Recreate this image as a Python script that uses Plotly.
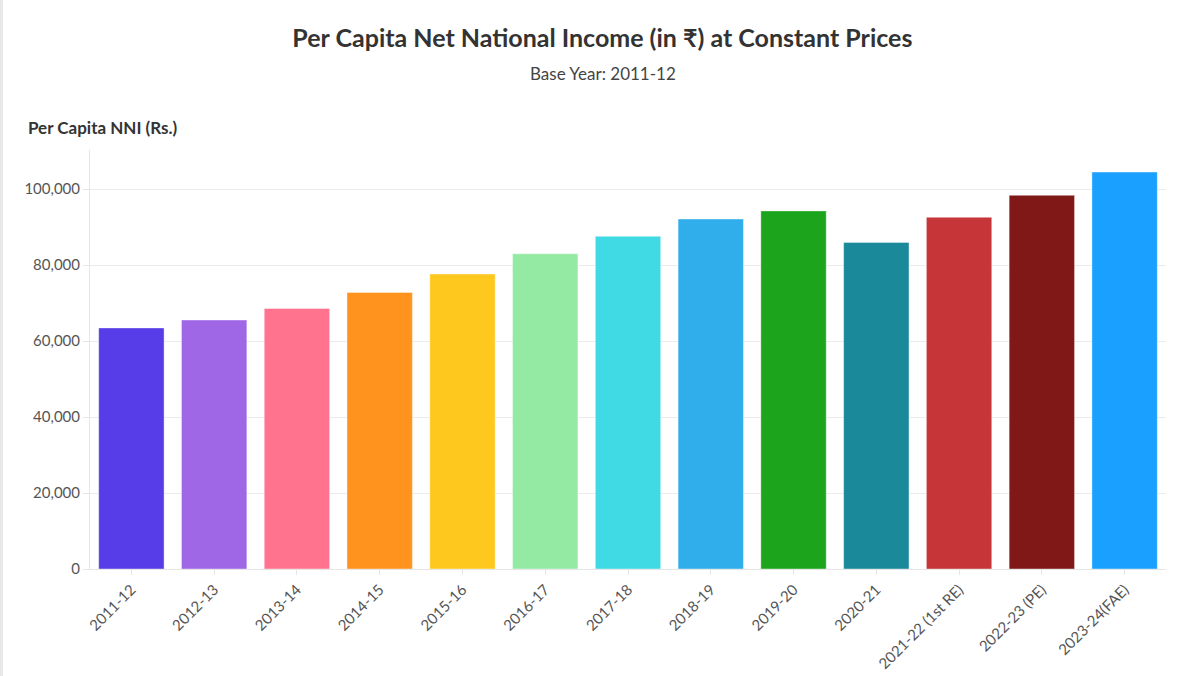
import plotly.graph_objects as go

years = ["2011-12", "2012-13", "2013-14", "2014-15", "2015-16", "2016-17", "2017-18",
         "2018-19", "2019-20", "2020-21", "2021-22 (1st RE)", "2022-23 (PE)", "2023-24(FAE)"]
nni = [63462, 65538, 68572, 72805, 77659, 83003, 87586, 92133, 94270, 85977, 92583, 98374, 104486]
colors = ["#573DE8", "#9F66E6", "#FF738F", "#FF931E", "#FFC81E", "#94EAA2", "#40DAE4",
          "#30AEEC", "#1CA41C", "#1A8A9A", "#C63638", "#801818", "#1AA0FF"]

W, H = 1200, 676
L, R, T, B = 90, 34, 150, 107

fig = go.Figure(go.Bar(
    x=years, y=nni,
    marker=dict(color=colors, line=dict(color="rgba(255,255,255,0.4)", width=1)),
    hovertemplate="%{x}: %{y:,}<extra></extra>",
))

font_family = "Lato, 'Open Sans', sans-serif"
pw = W - L - R
ph = H - T - B

fig.update_layout(
    width=W, height=H,
    margin=dict(l=L, r=R, t=T, b=B),
    paper_bgcolor="white", plot_bgcolor="white",
    font=dict(family=font_family, color="#555", size=15),
    bargap=0.21,
    showlegend=False,
    title=dict(text="<b>Per Capita Net National Income (in ₹) at Constant Prices</b>",
               x=0.502, xanchor="center", y=1 - 38 / H, yanchor="middle",
               font=dict(size=25, color="#333", family=font_family)),
    xaxis=dict(type="category", tickangle=-45, showgrid=False, showline=True,
               linecolor="#e6e6e6", automargin=False,
               ticks="outside", ticklen=5, tickcolor="#e6e6e6",
               tickfont=dict(size=15, color="#555")),
    yaxis=dict(range=[0, 110300], tickformat=",", dtick=20000, showgrid=True,
               gridcolor="#ebebeb", showline=True, linecolor="#e6e6e6", automargin=False,
               ticks="outside", ticklen=6, tickcolor="#e6e6e6", zeroline=False,
               tickfont=dict(size=15, color="#555")),
    annotations=[
        dict(text="Base Year: 2011-12", xref="paper", yref="paper",
             x=(603 - L) / pw, y=(H - 73 - B) / ph, xanchor="center", yanchor="middle",
             showarrow=False, font=dict(size=17, color="#444")),
        dict(text="<b>Per Capita NNI (Rs.)</b>", xref="paper", yref="paper",
             x=(26 - L) / pw, y=(H - 127 - B) / ph, xanchor="left", yanchor="middle",
             showarrow=False, font=dict(size=17, color="#333")),
    ],
    shapes=[
        dict(type="rect", xref="paper", yref="paper",
             x0=(0 - L) / pw, x1=(3 - L) / pw, y0=-B / ph, y1=(H - B) / ph,
             fillcolor="#e8e8e8", line=dict(width=0), layer="below"),
    ],
)

fig.write_html("out.html")
